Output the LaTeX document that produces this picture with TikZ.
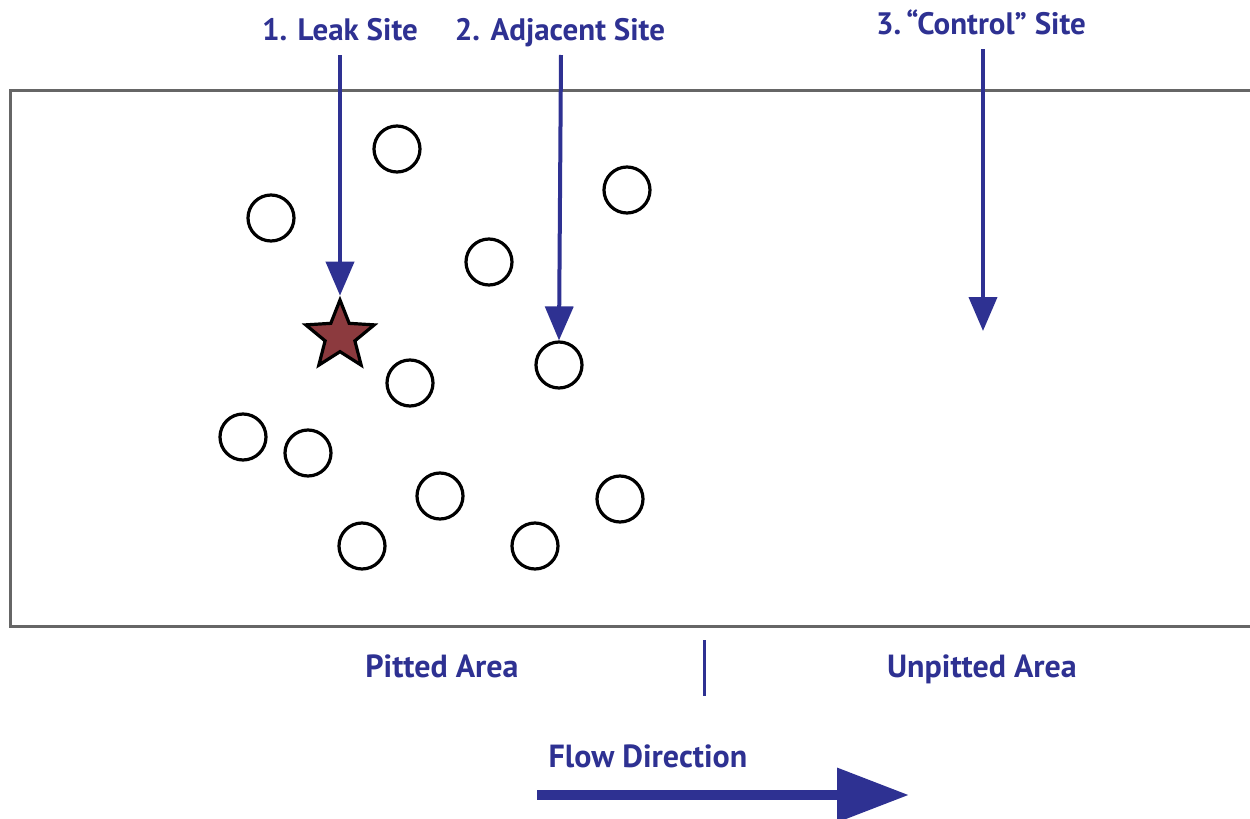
\documentclass[tikz,border=0pt]{standalone}
\usepackage{fontspec}
\setmainfont{PT Sans}
\usetikzlibrary{arrows.meta,shapes.geometric}
\definecolor{navy}{RGB}{46,49,146}
\definecolor{pitred}{RGB}{140,58,62}
\definecolor{wallgray}{RGB}{102,102,102}
\begin{document}
\begin{tikzpicture}[x=0.5pt,y=-0.5pt,
  sitelabel/.style={text=navy,font=\bfseries\fontsize{15.5}{17}\selectfont,inner sep=0pt,anchor=base},
  arealabel/.style={text=navy,font=\bfseries\fontsize{16}{18}\selectfont,inner sep=0pt,anchor=base},
  pointer/.style={draw=navy,line width=2pt,-{Triangle[length=17pt,width=14pt]}},
  pit/.style={circle,draw=black,line width=1.6pt,minimum size=23pt,inner sep=0pt},
  leak/.style={star,star points=5,star point ratio=2.3,draw=black,line width=1.6pt,fill=pitred,minimum size=36pt,inner sep=0pt}]
\useasboundingbox (0,0) rectangle (1250,819);
% pipe wall section (open on the right)
\draw[wallgray,line width=1.5pt] (1262,90) -- (10,90) -- (10,626) -- (1262,626);
% pits
\node[pit] (p1) at (397,149) {};
\node[pit] (p2) at (627,190) {};
\node[pit] (p3) at (271,218) {};
\node[pit] (p4) at (489,262) {};
\node[pit] (adj) at (559,365) {};
\node[pit] (p6) at (410,383) {};
\node[pit] (p7) at (243,437) {};
\node[pit] (p8) at (308,453) {};
\node[pit] (p9) at (440,496) {};
\node[pit] (p10) at (620,499) {};
\node[pit] (p11) at (362,546) {};
\node[pit] (p12) at (535,546) {};
% leak site
\node[leak] (leak) at (340,336) {};
% site labels and pointers
\node[sitelabel] (l1) at (340,40) {1. Leak Site};
\node[sitelabel] (l2) at (560,40) {2. Adjacent Site};
\node[sitelabel] (l3) at (981,34) {3.\,“Control” Site};
\coordinate (ctrl) at (983,331);
\draw[pointer] (340,55) -- (leak.north);
\draw[pointer] (561,55) -- (adj.north);
\draw[pointer] (983,49) -- (ctrl);
% area labels and divider
\node[arealabel] (pa) at (442,677) {Pitted Area};
\node[arealabel] (ua) at (982,677) {Unpitted Area};
\coordinate (d1) at (704,640);
\coordinate (d2) at (704,696);
\draw[navy,line width=1.5pt] (d1) -- (d2);
% flow direction
\node[arealabel] (fd) at (648,767) {Flow Direction};
\coordinate (f1) at (537,795);
\coordinate (f2) at (909,795);
\draw[navy,line width=5pt,-{Triangle[length=36pt,width=26pt]}] (f1) -- (f2);
\end{tikzpicture}
\end{document}
